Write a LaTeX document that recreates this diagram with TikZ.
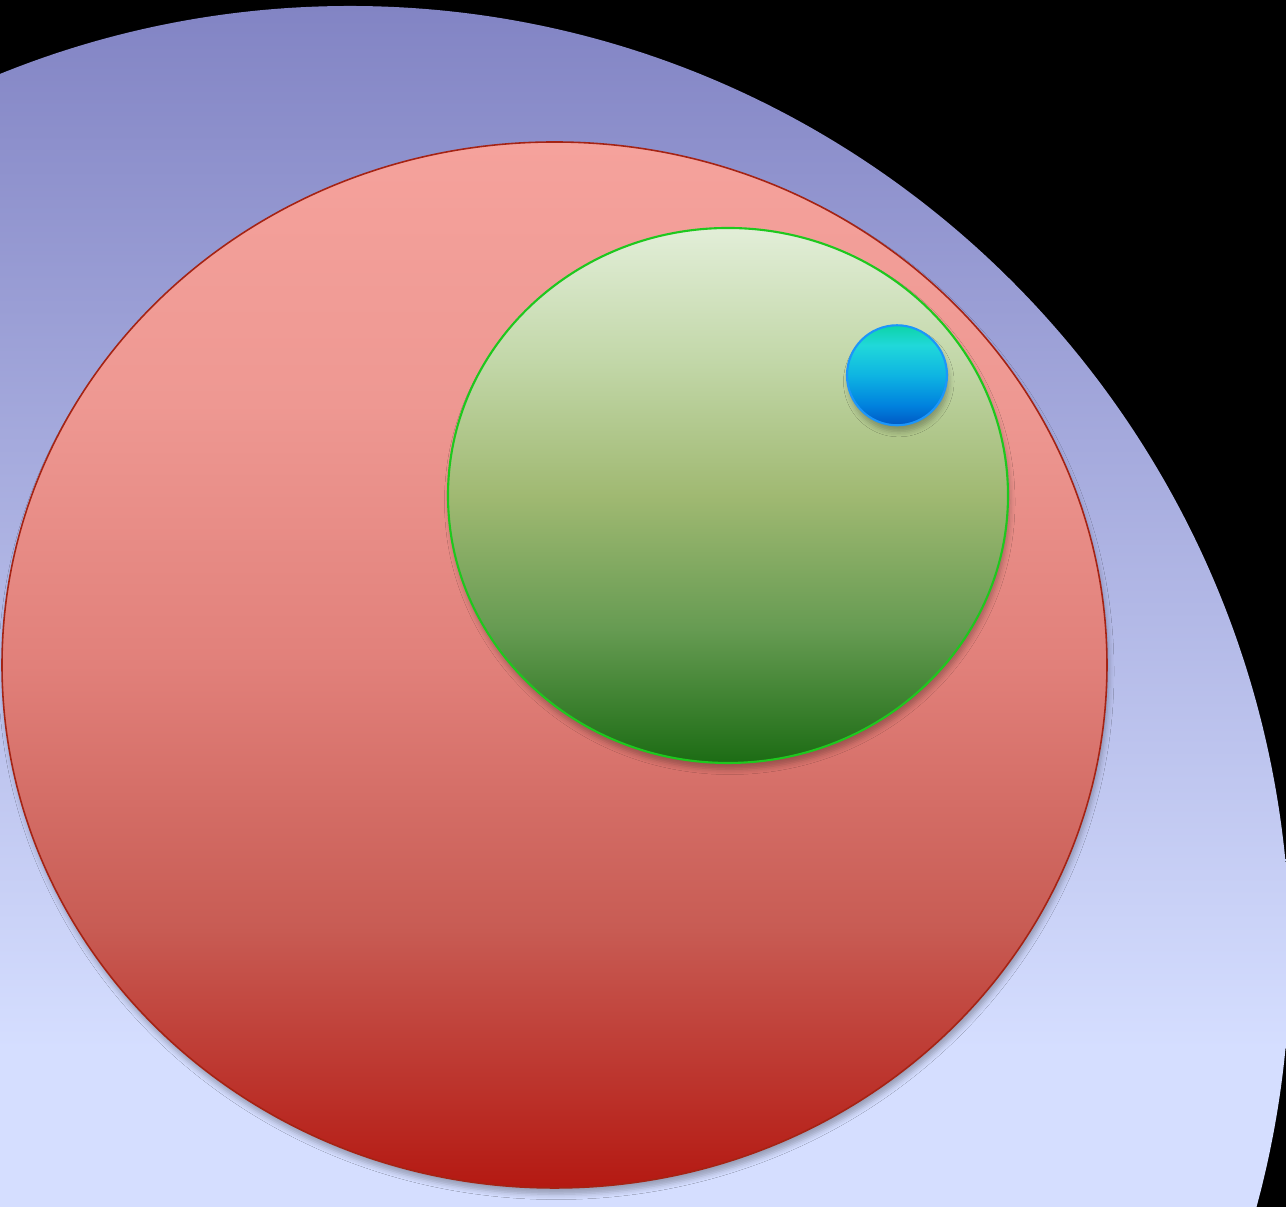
\documentclass[tikz,border=0pt]{standalone}
\usetikzlibrary{shapes.geometric,shadows.blur}
\definecolor{bluetop}{RGB}{130,132,196}
\definecolor{bluebot}{RGB}{213,222,255}
\definecolor{redline}{RGB}{165,35,20}
\definecolor{greenline}{RGB}{30,200,30}
\definecolor{dotline}{RGB}{28,150,250}
\definecolor{rA}{RGB}{245,162,156}
\definecolor{rB}{RGB}{238,152,146}
\definecolor{rC}{RGB}{225,128,122}
\definecolor{rD}{RGB}{200,92,84}
\definecolor{rE}{RGB}{180,25,18}
\definecolor{gA}{RGB}{226,238,216}
\definecolor{gB}{RGB}{194,215,168}
\definecolor{gC}{RGB}{160,185,114}
\definecolor{gD}{RGB}{102,155,82}
\definecolor{gE}{RGB}{28,108,20}
\definecolor{dA}{RGB}{14,212,168}
\definecolor{dB}{RGB}{32,216,218}
\definecolor{dC}{RGB}{14,180,226}
\definecolor{dD}{RGB}{0,130,222}
\definecolor{dE}{RGB}{0,88,196}
\pgfdeclareverticalshading{redsh}{100bp}{color(0bp)=(rE); color(25bp)=(rE); color(37.5bp)=(rD); color(50bp)=(rC); color(62.5bp)=(rB); color(75bp)=(rA); color(100bp)=(rA)}
\pgfdeclareverticalshading{greensh}{100bp}{color(0bp)=(gE); color(25bp)=(gE); color(37.5bp)=(gD); color(50bp)=(gC); color(62.5bp)=(gB); color(75bp)=(gA); color(100bp)=(gA)}
\pgfdeclareverticalshading{dotsh}{100bp}{color(0bp)=(dE); color(25bp)=(dE); color(35bp)=(dD); color(50bp)=(dC); color(65bp)=(dB); color(75bp)=(dA); color(100bp)=(dA)}
\tikzset{
  blob/.style={ellipse, inner sep=0pt, outer sep=0pt},
  softshadow/.style={blur shadow={shadow xshift=0.5pt, shadow yshift=-1.8pt, shadow blur radius=1.5pt, shadow opacity=28}},
  redblob/.style={blob, draw=redline, line width=0.45pt, shading=redsh, softshadow},
  greenblob/.style={blob, draw=greenline, line width=0.6pt, shading=greensh, softshadow},
  dotblob/.style={circle, inner sep=0pt, outer sep=0pt, draw=dotline, line width=0.6pt, shading=dotsh, softshadow}
}
\begin{document}
\begin{tikzpicture}
\useasboundingbox (0,0) rectangle (12.86,12.07);
\fill[black] (0,0) rectangle (12.86,12.07);
% large blue region
\begin{scope}
  \clip (3.50,2.52) ellipse [x radius=9.40, y radius=9.49];
  \shade[top color=bluetop, bottom color=bluebot] (0,1.58) rectangle (12.86,12.02);
  \fill[bluebot] (0,-0.1) rectangle (12.86,1.59);
\end{scope}
% red ellipse
\node[redblob, minimum width=11.05cm, minimum height=10.46cm] (red) at (5.545,5.42) {};
% green ellipse
\node[greenblob, minimum width=5.60cm, minimum height=5.35cm] (green) at (7.28,7.115) {};
% small blue circle
\node[dotblob, minimum size=1.0cm] (dot) at (8.97,8.317) {};
\end{tikzpicture}
\end{document}
